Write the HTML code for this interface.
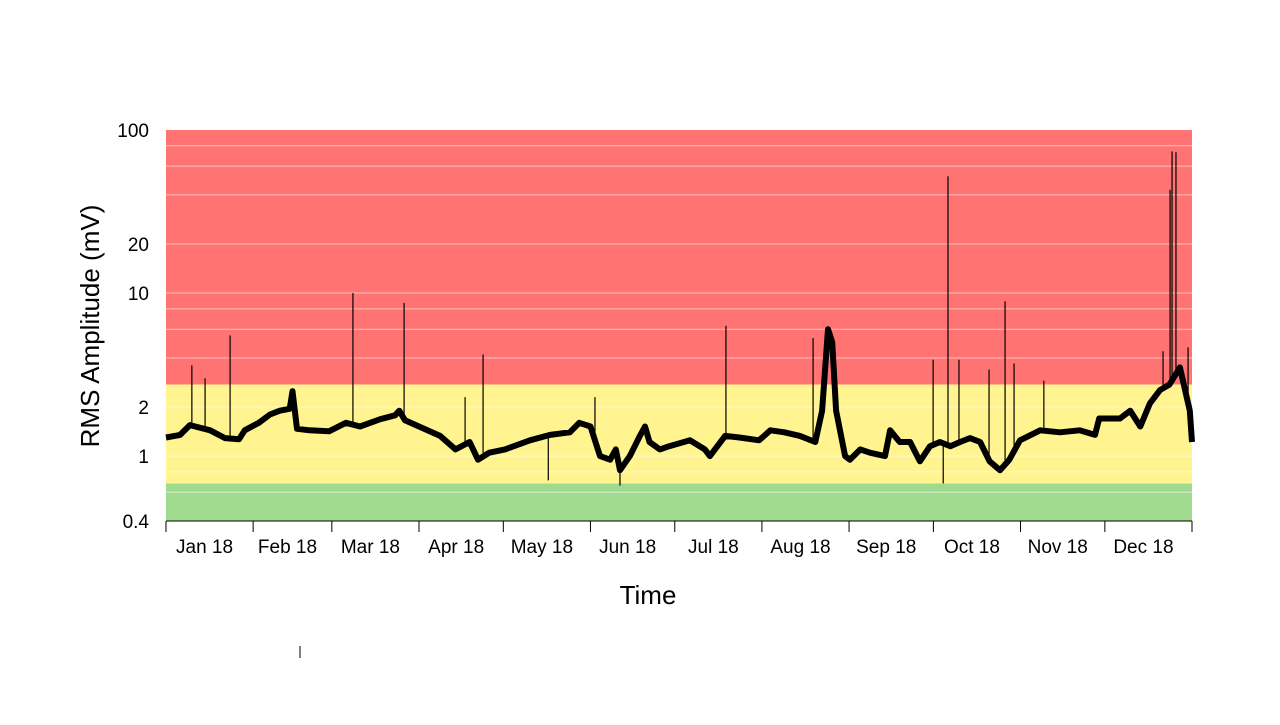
<!DOCTYPE html>
<html><head><meta charset="utf-8"><style>
body{margin:0;background:#fff;}
svg text{font-family:"Liberation Sans",sans-serif;fill:#000;}
</style></head><body>
<svg id="chart" width="1280" height="720">
<g id="zones"></g><g id="grid"></g><g id="series"></g><g id="axes"></g>
<text x="648" y="604" font-size="26" text-anchor="middle">Time</text>
<text transform="translate(99,326) rotate(-90)" font-size="26" text-anchor="middle">RMS Amplitude (mV)</text>
<line x1="300" y1="646" x2="300" y2="658" stroke="#000" stroke-width="1"/>
</svg>
<script>
const months = ["Jan 18","Feb 18","Mar 18","Apr 18","May 18","Jun 18","Jul 18","Aug 18","Sep 18","Oct 18","Nov 18","Dec 18"];
const monthStarts = [0,31,59,90,120,151,181,212,243,273,304,334,365];
const yTicks = [0.4,1,2,10,20,100];
const gridVals = [0.6,0.8,1,2,4,6,8,10,20,40,60,80];
const zoneBounds = [0.4,0.68,2.75,100];
const zoneColors = ["#A0DA8F","#FFF48F","#FF7373"];
const baseDays = [0,5,8.5,15.7,21,26,28,33,37,40.5,44,45,46.6,51,58,64,69,76,81.5,83,85,90,97.5,103,108,111,115,120.6,129.5,136.6,143.7,147,151,154.4,158,160,161.5,165,168.6,170.4,172,175.7,179,186.4,191.7,193.5,198.9,204,211,215,220,225.5,231,233.4,235.5,237,238.4,241.6,243.3,247,250.4,255.8,257.6,261,264.7,268.2,271.8,275.3,279,282.5,286,289.6,293,296.7,300,303.8,311,318,325,330.5,332,339.4,343,346.6,350,353.6,357,360.7,364.2,365];
const baseVals = [1.3,1.35,1.55,1.44,1.29,1.27,1.44,1.6,1.8,1.9,1.95,2.5,1.47,1.44,1.42,1.6,1.52,1.68,1.78,1.9,1.66,1.52,1.33,1.1,1.22,0.95,1.05,1.1,1.25,1.35,1.4,1.6,1.52,1.0,0.95,1.1,0.82,1.0,1.33,1.52,1.22,1.1,1.15,1.25,1.1,1.0,1.33,1.3,1.25,1.44,1.4,1.33,1.22,1.9,6.0,5.0,1.9,1.0,0.95,1.1,1.05,1.0,1.44,1.22,1.22,0.93,1.15,1.22,1.15,1.22,1.29,1.22,0.93,0.82,0.95,1.25,1.44,1.4,1.44,1.35,1.7,1.7,1.9,1.52,2.1,2.54,2.75,3.5,1.9,1.22];
const spikeDays = [9.2,13.9,22.8,66.5,84.7,106.4,112.8,152.6,199.2,230.2,272.9,278.2,282.1,292.8,298.5,301.7,312.3,354.7,357.2,357.9,359.3,363.6,136,161.5,276.5];
const spikeVals = [3.6,3.0,5.5,10,8.7,2.3,4.2,2.3,6.3,5.3,3.9,52,3.9,3.4,8.9,3.7,2.9,4.4,43,74,73,4.65,0.71,0.66,0.68];

const X0=166,X1=1192,Y0=130,Y1=521,LMAX=2,LMIN=Math.log10(0.4);
const xs=d=>X0+(X1-X0)*d/365;
const ys=v=>Y0+(Y1-Y0)*(LMAX-Math.log10(v))/(LMAX-LMIN);
const NS="http://www.w3.org/2000/svg";
function mk(t,a,p){const e=document.createElementNS(NS,t);for(const k in a)e.setAttribute(k,a[k]);p.appendChild(e);return e;}
const zones=document.getElementById('zones'),grid=document.getElementById('grid'),series=document.getElementById('series'),axes=document.getElementById('axes');
for(let i=0;i<zoneColors.length;i++){
  const r=mk('rect',{x:X0,y:ys(zoneBounds[i+1]),width:X1-X0,height:ys(zoneBounds[i])-ys(zoneBounds[i+1]),fill:zoneColors[i]},zones);
  
  
}
gridVals.forEach(v=>{
  const l=mk('line',{x1:X0,x2:X1,y1:ys(v),y2:ys(v),stroke:'#ffffff','stroke-opacity':0.55,'stroke-width':1},grid);
  
  
});
let d='';
baseDays.forEach((dd,i)=>{d+=(i?'L':'M')+xs(dd).toFixed(1)+' '+ys(baseVals[i]).toFixed(1);});
const p=mk('path',{d:d,fill:'none',stroke:'#000','stroke-width':6,'stroke-linejoin':'round'},series);


spikeDays.forEach((sd,i)=>{
  let k=0;while(k<baseDays.length-2&&baseDays[k+1]<sd)k++;
  const t=(sd-baseDays[k])/(baseDays[k+1]-baseDays[k]);
  const bv=baseVals[k]+(baseVals[k+1]-baseVals[k])*t;
  const s=mk('line',{x1:xs(sd),x2:xs(sd),y1:ys(bv),y2:ys(spikeVals[i]),stroke:'#000','stroke-width':1.2},series);
  
  
});
const ax=mk('line',{x1:X0,x2:X1,y1:Y1,y2:Y1,stroke:'#000','stroke-width':1},axes);


monthStarts.forEach(m=>{
  const t=mk('line',{x1:xs(m),x2:xs(m),y1:Y1,y2:Y1+11,stroke:'#000','stroke-width':1},axes);
  
  
});
months.forEach((m,i)=>{
  const t=mk('text',{x:(xs(monthStarts[i])+xs(monthStarts[i+1]))/2-5,y:553,'font-size':19,'text-anchor':'middle'},axes);
  t.textContent=m;
  
  
});
yTicks.forEach(v=>{
  const t=mk('text',{x:149,y:ys(v)+7,'font-size':19,'text-anchor':'end'},axes);
  t.textContent=v;
  
  
});
</script>
</body></html>
